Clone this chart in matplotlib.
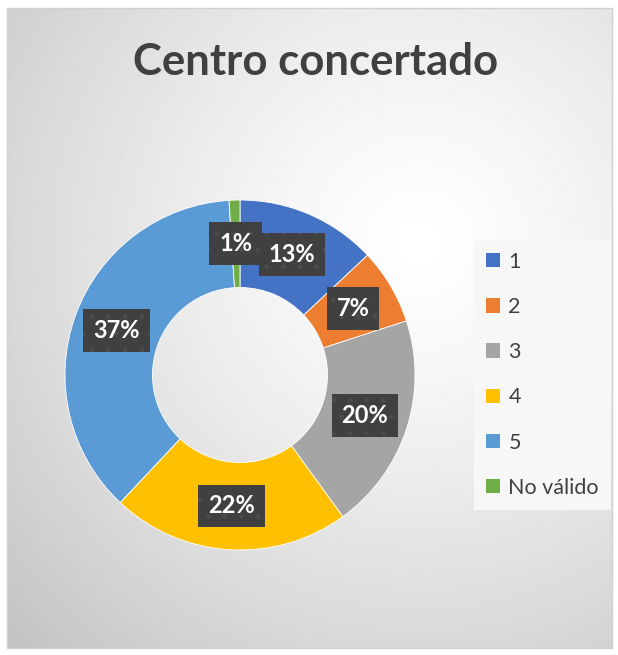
import numpy as np
import matplotlib.pyplot as plt
from matplotlib.patches import Rectangle, Patch

# data
categories = ['1', '2', '3', '4', '5', 'No válido']
values = [13, 7, 20, 22, 37, 1]
colors = ['#4472C4', '#ED7D31', '#A5A5A5', '#FFC000', '#5B9BD5', '#70AD47']
title = 'Centro concertado'

W, H = 618, 655
fig = plt.figure(figsize=(W / 100, H / 100), dpi=100)

# background with radial gradient inside a frame
bg = fig.add_axes([0, 0, 1, 1])
bg.set_xlim(0, W)
bg.set_ylim(H, 0)
bg.axis('off')
yy, xx = np.mgrid[0:H, 0:W]
d = np.hypot(xx - 420, yy - 240) / 590.0
shade = 1 - 0.24 * np.clip(d, 0, 1.2) ** 1.3
bg.imshow(shade, cmap='gray', vmin=0, vmax=1, extent=(7, 612, 648, 8), zorder=0)
bg.add_patch(Rectangle((7, 8), 605, 640, fill=False, edgecolor='#d0d0d0', lw=1, zorder=1))

# title
fig.text(0.511, 0.905, title, ha='center', va='center', fontsize=31.5,
         fontweight='bold', color='#404040', family='Lato')

# donut
ax = fig.add_axes([65 / W, 1 - 550 / H, 350 / W, 350 / H])
wedges, texts, autotexts = ax.pie(values, colors=colors, startangle=90, counterclock=False,
                                  radius=1, autopct=lambda p: f'{p:.0f}%', pctdistance=0.75,
                                  wedgeprops=dict(width=0.5, edgecolor='white', linewidth=0.6))
ax.set_xlim(-1, 1)
ax.set_ylim(-1, 1)
ax.set_aspect('equal')

for t in autotexts:
    t.set_color('white')
    t.set_fontsize(17)
    t.set_fontweight('bold')
    t.set_family('Lato')
    t.set_bbox(dict(boxstyle='square,pad=0.42', facecolor='#404040', edgecolor='#4c4c4c',
                    linewidth=0, hatch='.'))

# legend
handles = [Patch(facecolor=c, edgecolor='none') for c in colors]
leg = fig.legend(handles, categories, loc='upper left', bbox_to_anchor=(474 / W, 1 - 240 / H),
                 frameon=True, fancybox=False, facecolor='#f7f7f7', edgecolor='none',
                 framealpha=1, labelspacing=1.17, handlelength=0.65,
                 handleheight=0.65, handletextpad=0.4, borderpad=0.55, borderaxespad=0,
                 prop={'family': 'Lato', 'size': 15.5})
for txt in leg.get_texts():
    txt.set_color('#404040')

fig.savefig('out.png', dpi=100)
